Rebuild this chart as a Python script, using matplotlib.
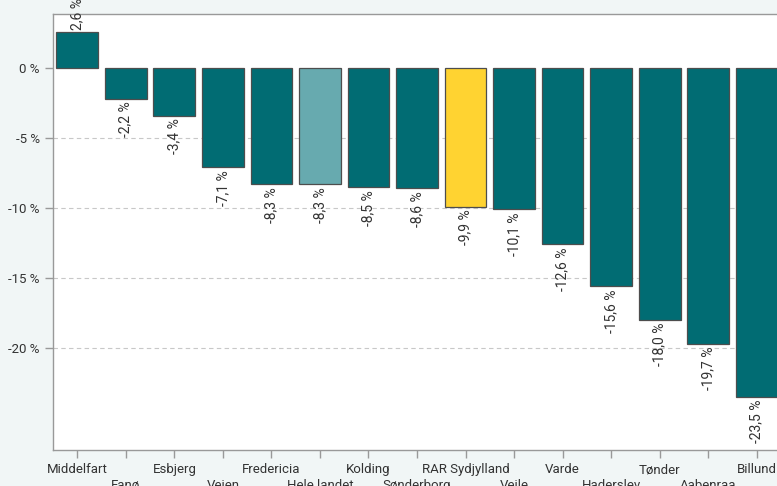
import matplotlib
matplotlib.use("Agg")
import matplotlib.pyplot as plt
import numpy as np

plt.rcParams['font.family'] = ['Roboto', 'DejaVu Sans']

# Data
areas = ['Middelfart', 'Fanø', 'Esbjerg', 'Vejen', 'Fredericia', 'Hele landet',
         'Kolding', 'Sønderborg', 'RAR Sydjylland', 'Vejle', 'Varde', 'Haderslev',
         'Tønder', 'Aabenraa', 'Billund']
change = [2.6, -2.2, -3.4, -7.1, -8.3, -8.3, -8.5, -8.6, -9.9, -10.1, -12.6,
          -15.6, -18.0, -19.7, -23.5]

teal = '#016c73'
colors = [teal] * len(areas)
colors[areas.index('Hele landet')] = '#67aaaf'
colors[areas.index('RAR Sydjylland')] = '#ffd331'

fig = plt.figure(figsize=(7.77, 4.86), dpi=100, facecolor='#f1f6f6')
ax = fig.add_axes([0.0682, 0.074, 0.937, 0.897])
ax.set_facecolor('white')

x = np.arange(len(areas))
ax.bar(x, change, width=0.86, color=colors, edgecolor='#4d4d4d', linewidth=0.9, zorder=3)

# value labels
for xi, v in zip(x, change):
    txt = f"{v:.1f}".replace('.', ',') + " %"
    if v >= 0:
        ax.annotate(txt, (xi, v), xytext=(0, 1), textcoords='offset points',
                    rotation=90, ha='center', va='bottom', fontsize=10,
                    color='#333333', annotation_clip=False)
    else:
        ax.annotate(txt, (xi, v), xytext=(0, -2), textcoords='offset points',
                    rotation=90, ha='center', va='top', fontsize=10,
                    color='#333333', annotation_clip=False)

# axes styling
ax.set_xlim(-0.5, len(areas) - 0.5)
ax.set_ylim(-27.29, 3.86)
ax.set_yticks([0, -5, -10, -15, -20])
ax.set_yticklabels(['0 %', '-5 %', '-10 %', '-15 %', '-20 %'])
for yv in [-5, -10, -15, -20]:
    ax.axhline(yv, color='#c8c8c8', linestyle=(0, (4, 3)), linewidth=0.8, zorder=1)

labels = [a if i % 2 == 0 else '\n' + a for i, a in enumerate(areas)]
ax.set_xticks(x)
ax.set_xticklabels(labels, linespacing=1.25)

ax.tick_params(axis='both', colors='#999999', labelcolor='#333333', labelsize=9.5,
               length=6, width=1)
for s in ax.spines.values():
    s.set_color('#999999')
    s.set_linewidth(1)

fig.savefig('out.png', dpi=100, facecolor=fig.get_facecolor())
